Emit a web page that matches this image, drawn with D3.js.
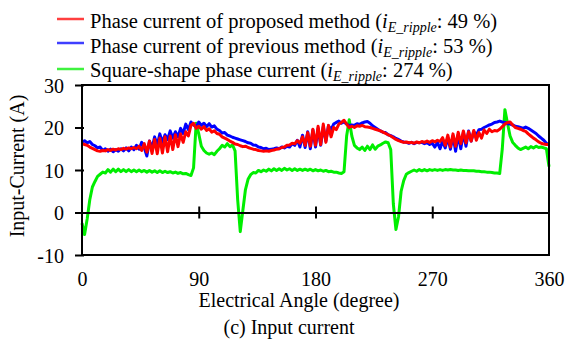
<!DOCTYPE html>
<html><head><meta charset="utf-8">
<script src="https://cdn.jsdelivr.net/npm/d3@7/dist/d3.min.js"></script>
<style>
body{margin:0;background:#fff}
svg{display:block}
svg text{font-family:"Liberation Serif","Times New Roman",Times,Tinos,"Nimbus Roman","DejaVu Serif",serif;fill:#000}
</style>
</head><body>
<svg id="c" width="565" height="347"></svg>
<script>
// ---- data ----
const angles = d3.range(0, 361, 2); // electrical angle sampling grid (degree)
const xTicks = [0, 90, 180, 270, 360];
const yTicks = [-10, 0, 10, 20, 30];

const proposed = [
 16.2,16.0,15.8,15.4,15.1,14.8,14.5,14.4,14.6,14.5,
 14.8,14.6,14.9,14.7,15.0,14.8,15.1,14.9,15.2,15.0,
 15.3,15.0,15.6,14.6,16.2,14.2,16.8,13.9,17.2,13.8,
 17.5,14.0,17.8,14.3,18.0,14.8,18.3,15.5,18.5,16.5,
 19.0,18.0,20.5,21.0,19.8,20.3,19.6,20.2,19.3,19.7,
 18.9,19.2,18.6,18.4,17.8,17.5,17.2,16.8,16.5,16.1,
 16.0,15.7,15.5,15.6,15.3,15.1,14.9,14.8,14.6,14.5,
 14.4,14.5,14.4,14.6,14.7,14.9,15.0,15.3,15.4,15.8,
 15.9,16.3,16.2,16.9,16.3,17.8,15.8,18.8,15.6,19.6,
 15.8,20.3,16.0,20.8,16.5,20.5,17.8,20.0,19.5,20.8,
 21.2,21.7,20.8,20.0,20.3,20.0,20.4,20.3,20.5,20.2,
 20.1,20.0,19.8,19.6,19.4,19.2,18.9,18.6,18.3,18.0,
 17.6,17.2,16.9,16.7,16.5,16.6,16.4,16.5,16.3,16.6,
 16.4,16.7,16.5,16.8,16.5,16.9,16.6,17.0,16.7,17.6,
 15.8,18.2,15.4,18.5,15.6,18.9,16.2,19.2,16.4,19.0,
 16.8,19.3,17.0,18.8,17.5,19.4,18.6,19.6,19.0,19.3,
 19.2,19.6,20.2,20.8,21.2,21.3,20.6,20.0,19.8,19.6,
 19.3,19.1,18.5,18.0,17.5,17.1,16.6,16.3,16.1,16.0,
 16.0
];
const previous = [
 16.5,16.9,16.4,16.7,16.0,15.7,15.2,15.4,14.6,15.0,
 14.4,14.9,14.3,14.8,14.4,15.0,14.5,15.2,14.5,15.4,
 14.8,15.8,14.9,16.5,15.2,13.3,16.8,15.2,17.8,15.8,
 18.5,16.5,18.3,17.2,19.2,17.5,19.0,17.8,19.8,18.6,
 20.8,19.5,21.3,20.6,20.2,21.3,20.5,21.0,20.2,20.9,
 20.1,20.4,19.6,19.3,18.7,18.8,18.2,18.0,17.7,17.5,
 17.3,17.1,16.9,16.7,16.4,16.3,15.9,15.8,15.4,15.3,
 15.0,15.1,14.8,14.9,15.0,15.2,15.0,15.4,15.2,15.6,
 15.4,16.2,15.8,17.0,15.4,18.2,15.3,19.0,15.0,19.4,
 15.4,19.8,15.8,20.2,16.8,20.4,19.5,20.8,21.2,21.5,
 21.0,21.3,20.8,20.4,20.6,20.5,20.9,20.7,21.1,21.3,
 21.4,21.0,20.4,20.0,19.6,19.2,18.9,18.8,18.3,18.1,
 17.8,17.4,17.2,16.8,16.6,16.5,16.3,16.5,16.2,16.5,
 16.4,16.5,16.2,16.4,16.0,16.3,15.4,16.5,15.0,16.8,
 15.2,17.6,14.9,18.0,14.4,18.3,15.0,18.8,15.6,19.2,
 16.8,19.0,18.2,19.5,19.6,20.0,20.3,20.6,20.8,21.2,
 21.3,21.5,21.3,21.2,20.9,20.8,20.6,20.3,20.2,20.0,
 19.8,20.1,19.8,19.4,19.0,18.6,18.0,17.5,17.0,16.3,
 16.0
];
const square = [
 -2.5,-5.2,-1.5,3.0,6.0,7.3,8.5,9.0,9.5,9.3,
 10.1,9.5,10.2,9.6,10.2,9.6,10.1,9.6,10.1,9.6,
 10.0,9.6,10.0,9.6,9.9,9.5,9.9,9.5,9.8,9.4,
 9.8,9.4,9.7,9.4,9.6,9.3,9.5,9.2,9.4,9.1,
 9.2,8.9,8.7,10.5,21.0,18.5,15.6,14.6,14.0,13.7,
 14.0,13.6,14.4,15.0,15.8,15.4,16.2,15.5,15.9,14.5,
 3.0,-4.5,0.5,5.4,7.8,8.9,9.4,9.3,9.9,9.6,
 10.0,9.7,10.2,9.8,10.3,9.9,10.3,9.9,10.4,10.0,
 10.3,9.9,10.3,9.9,10.2,9.9,10.2,9.9,10.2,9.8,
 10.1,9.8,10.0,9.7,9.9,9.6,9.7,9.5,9.5,9.3,
 9.2,9.6,18.0,21.8,18.0,15.8,15.2,14.8,15.4,14.6,
 15.6,14.8,15.9,14.9,15.6,15.9,16.3,16.6,16.4,14.8,
 2.0,-4.0,-1.0,5.0,7.5,9.0,9.4,9.7,10.0,9.7,
 10.1,9.8,10.1,9.8,10.1,9.9,10.1,9.9,10.1,9.9,
 10.1,10.0,10.1,10.0,10.0,9.9,10.0,9.9,9.9,9.8,
 9.8,9.8,9.7,9.7,9.6,9.6,9.5,9.5,9.4,9.3,
 9.3,9.2,15.0,24.2,21.0,18.0,16.5,15.8,15.2,14.8,
 15.1,15.4,15.0,15.5,15.2,15.6,15.3,15.4,15.2,15.0,
 10.8
];
const seriesNames = ["Phase current of proposed method (", "Phase current of previous method (", "Square-shape phase current ("];
const rippleLabels = [": 49 %)", ": 53 %)", ": 274 %)"];
const seriesColors = ["#ff0000", "#0000ff", "#00ee00"];

// ---- chart ----
const FONT = '"Liberation Serif","Times New Roman",Times,Tinos,"Nimbus Roman","DejaVu Serif",serif';
const svg = d3.select("#c");
const x = d3.scaleLinear().domain([0, 360]).range([82, 549]);
const y = d3.scaleLinear().domain([-10, 30]).range([255, 85]);

const line = d3.line().x((d, i) => x(angles[i])).y(d => y(d));

const plot = svg.append("g");
// draw order: green, blue, red
[[square, 2], [previous, 1], [proposed, 0]].forEach(([vals, k]) => {
  plot.append("path").datum(vals)
    .attr("d", line)
    .attr("fill", "none")
    .attr("stroke", seriesColors[k])
    .attr("stroke-width", 3)
    .attr("stroke-linejoin", "round");
});

// frame
svg.append("rect")
  .attr("x", x(0)).attr("y", y(30))
  .attr("width", x(360) - x(0)).attr("height", y(-10) - y(30))
  .attr("fill", "none").attr("stroke", "#000").attr("stroke-width", 2);

// zero line with ticks
const zeroAxis = svg.append("g").attr("transform", `translate(0,${y(0)})`)
  .call(d3.axisBottom(x).tickValues(xTicks.slice(1, 4)).tickSize(6).tickSizeOuter(0).tickFormat(""));
zeroAxis.select(".domain").attr("stroke", "#000").attr("stroke-width", 2);
zeroAxis.selectAll(".tick line").attr("y1", -6).attr("y2", 6).attr("stroke-width", 2);

// left axis
const yAxis = svg.append("g").attr("transform", `translate(${x(0)},0)`)
  .call(d3.axisLeft(y).tickValues(yTicks).tickSize(7).tickSizeOuter(0).tickPadding(11)
    .tickFormat(d => String(d)));
yAxis.attr("font-family", FONT).attr("font-size", 20);
yAxis.select(".domain").remove();
yAxis.selectAll(".tick line").attr("x2", -7).attr("x1", 2).attr("stroke-width", 2);
yAxis.selectAll(".tick text").attr("dy", "0.36em");

// bottom axis labels
const xAxis = svg.append("g").attr("transform", `translate(0,${y(-10)})`)
  .call(d3.axisBottom(x).tickValues(xTicks).tickSize(0).tickSizeOuter(0).tickFormat(d => String(d)));
xAxis.attr("font-family", FONT).attr("font-size", 20);
xAxis.select(".domain").remove();
xAxis.selectAll(".tick text").attr("y", 31).attr("dy", 0);

// axis titles
svg.append("text").attr("x", 299).attr("y", 307).attr("text-anchor", "middle")
  .attr("font-family", FONT).attr("font-size", 20).text("Electrical Angle (degree)");
svg.append("text").attr("transform", "translate(24,166) rotate(-90)").attr("text-anchor", "middle")
  .attr("font-family", FONT).attr("font-size", 20).text("Input-Current (A)");
svg.append("text").attr("x", 289).attr("y", 334).attr("text-anchor", "middle")
  .attr("font-family", FONT).attr("font-size", 20).text("(c) Input current");

// legend
const legBase = [28, 52.5, 77];
const legLine = [19, 43, 69];
seriesNames.forEach((name, k) => {
  svg.append("line").attr("x1", 57).attr("x2", 84).attr("y1", legLine[k]).attr("y2", legLine[k])
    .attr("stroke", seriesColors[k]).attr("stroke-width", 2.5).attr("opacity", 0.75);
  const t = svg.append("text").attr("x", 90).attr("y", legBase[k])
    .attr("font-family", FONT).attr("font-size", 20.5);
  t.append("tspan").text(name);
  t.append("tspan").attr("font-style", "italic").text("i");
  t.append("tspan").attr("font-style", "italic").attr("font-size", 14).attr("dy", 4).text("E_ripple");
  t.append("tspan").attr("dy", -4).text(rippleLabels[k]);
});
</script>
</body></html>
